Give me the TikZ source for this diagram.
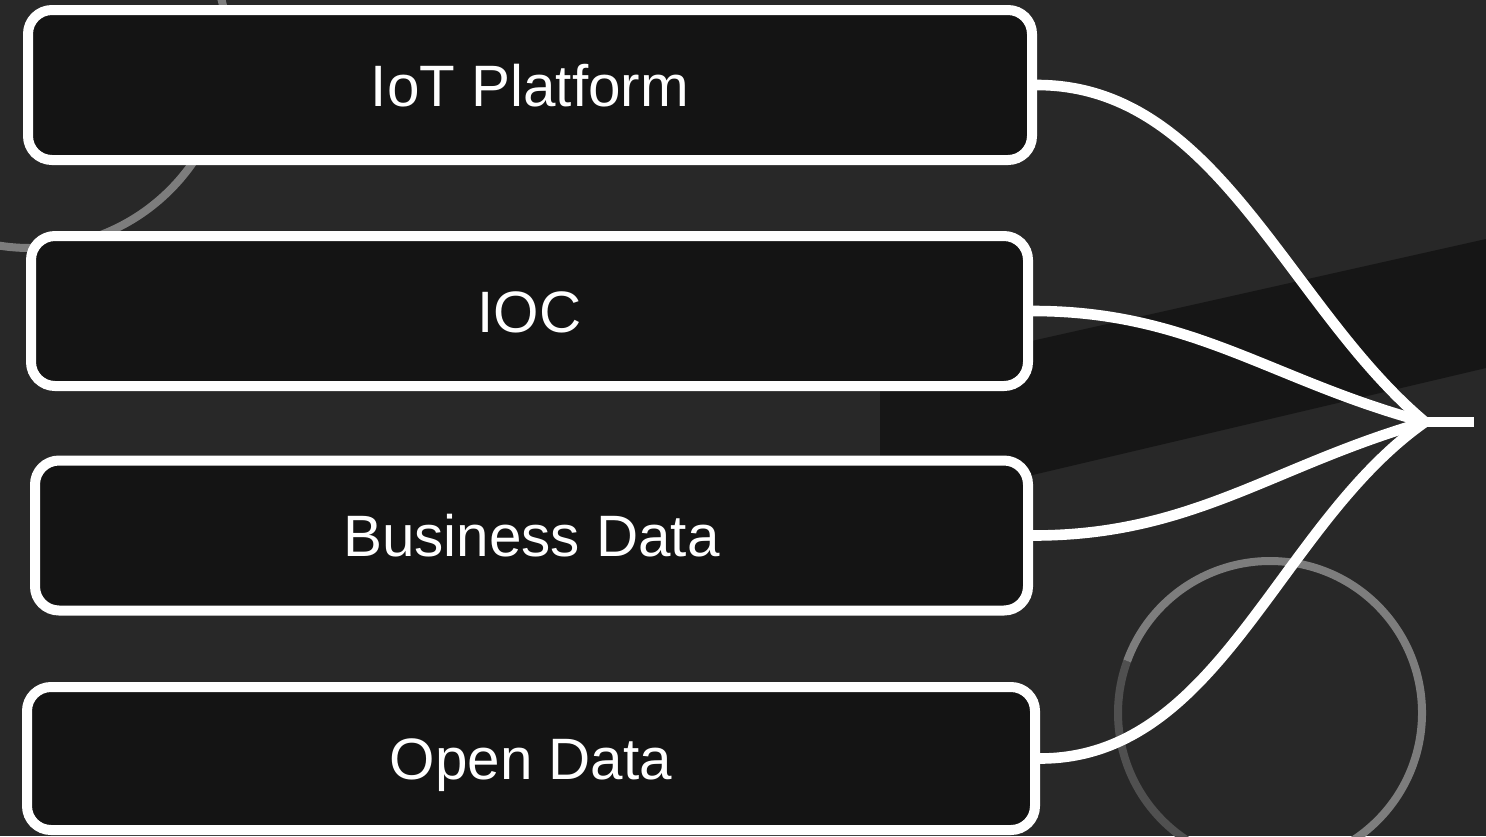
\documentclass[tikz,border=0pt]{standalone}
\usepackage{fontspec}
\setmainfont{Liberation Sans}
\usepackage{tikz}

\definecolor{bgcol}{RGB}{40,40,40}
\definecolor{bandcol}{RGB}{22,22,22}
\definecolor{boxcol}{RGB}{20,20,20}
\definecolor{ringcol}{RGB}{125,125,125}
\definecolor{ringdark}{RGB}{80,80,80}

\begin{document}
\begin{tikzpicture}[x=0.5pt,y=0.5pt,yscale=-1,xscale=1,
  srcbox/.style={draw=white,line width=5pt,fill=boxcol,rounded corners=12pt,text=white,
    font=\fontsize{29.2}{34}\selectfont,minimum height=75pt,inner sep=0pt,
    text height=21pt,text depth=0pt},
  link/.style={draw=white,line width=5.3pt,line cap=round},
  ring/.style={draw=ringcol,line width=4pt}]
\useasboundingbox (0,0) rectangle (1486,836);

%Background
\fill[bgcol] (0,0) rectangle (1486,836);
\fill[bandcol] (880,375) -- (1486,239) -- (1486,368) -- (880,511) -- cycle;
\draw[ring] (30,50) circle (198);
\draw[ringdark,line width=4pt] (1270,713) ++(200:152) arc (200:95:152);
\draw[ring] (1270,713) ++(95:152) arc (95:-160:152);

%Source boxes
\node[srcbox,minimum width=502pt] (iot) at (530,85) {IoT Platform};
\node[srcbox,minimum width=498.5pt] (ioc) at (529.5,311) {IOC};
\node[srcbox,minimum width=496.5pt] (biz) at (531.5,535.5) {Business Data};
\node[srcbox,minimum width=504pt,minimum height=71.5pt] (open) at (531,758.5) {Open Data};

%Merge point
\coordinate (tip) at (1425,422);
\coordinate (hub) at (1474,422);

%Connectors
\draw[link] (iot.east) to[out=0,in=220,looseness=0.9] (tip);
\draw[link] (ioc.east) to[out=0,in=195] (tip);
\draw[link] (biz.east) to[out=0,in=164] (tip);
\draw[link] (open.east) to[out=0,in=145,looseness=0.9] (tip);
\draw[link,line cap=butt] (tip) -- (hub);

\end{tikzpicture}
\end{document}
